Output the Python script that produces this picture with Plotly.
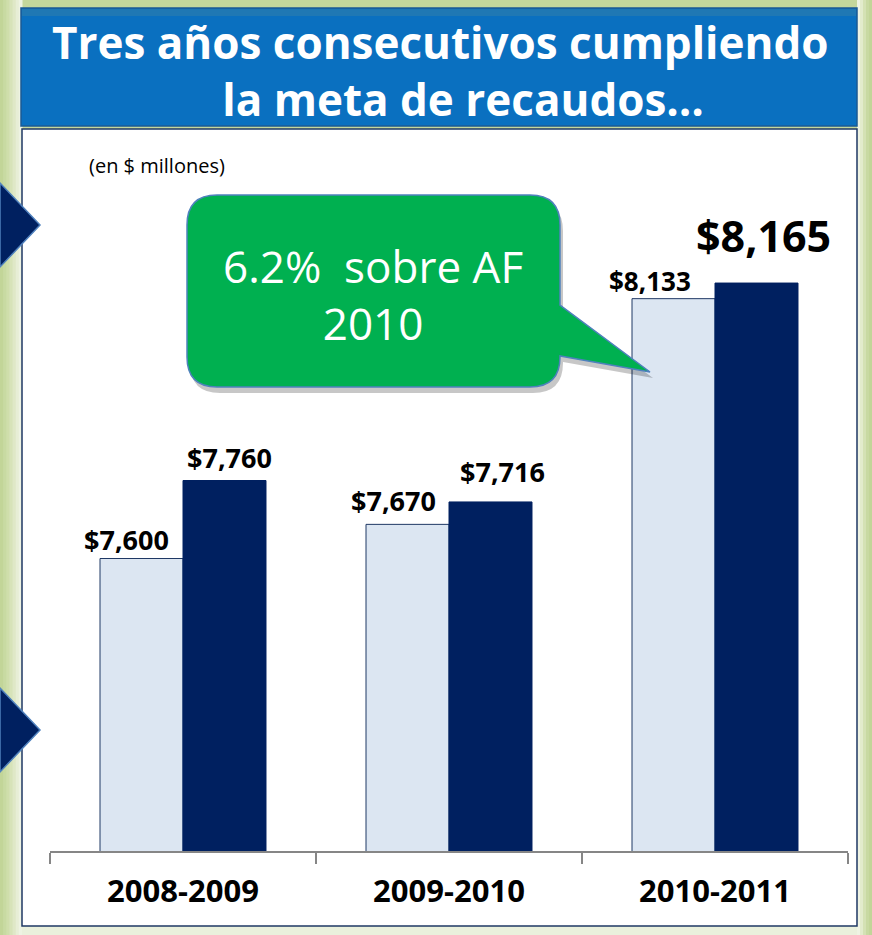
import plotly.graph_objects as go

# ---------------- data ----------------
categories = ["2008-2009", "2009-2010", "2010-2011"]
meta = [7600, 7670, 8133]        # light bars
recaudo = [7760, 7716, 8165]     # dark bars
title_line1 = "Tres años consecutivos cumpliendo"
title_line2 = "la meta de recaudos…"
units_text = "(en $ millones)"
callout_text = "6.2%  sobre AF<br>2010"

# ---------------- styles / geometry ----------------
W, H = 872, 935
L, R, T, B = 50, 24, 0, 84
PW = W - L - R
PH = H - T - B
FONT = "Open Sans"
LIGHT = "#dce6f2"
DARK = "#002060"

light_dx = [-57, -56, -65]
dark_dx = [46, 53, 48]
light_dy = [19, 24, 18]
dark_dy = [23, 30, 48]
light_fs = [27, 27, 26]
dark_fs = [27, 27, 43]


def X(px):
    return (px - L) / PW


def Y(py):
    return (H - B - py) / PH


def rect(x0, y0, x1, y1, fill, line=None, lw=0, layer="below"):
    return dict(type="rect", xref="paper", yref="paper",
                x0=X(x0), x1=X(x1), y0=Y(y1), y1=Y(y0),
                fillcolor=fill, layer=layer, line=dict(width=lw, color=line or fill))


def path_shape(pts_cmds, fill, line, lw, layer="above"):
    s = ""
    for cmd, pts in pts_cmds:
        s += cmd + " " + " ".join(f"{X(px):.5f},{Y(py):.5f}" for px, py in pts) + " "
    s += "Z"
    return dict(type="path", xref="paper", yref="paper", path=s,
                fillcolor=fill, line=dict(color=line, width=lw), layer=layer)


shapes = []
# left gradient strip
left_cols = ["#c2d598", "#c8daa2", "#cfdeab", "#d7e3b9", "#dfe8c7", "#e7eed6", "#eef3e3"]
step = 22 / len(left_cols)
for i, c in enumerate(left_cols):
    shapes.append(rect(i * step, 0, (i + 1) * step + 0.5, H, c))
# right strip
right_cols = ["#eef3e3", "#e2ebcc", "#d4e1b4", "#c8d9a2", "#c2d598"]
step = 15 / len(right_cols)
for i, c in enumerate(right_cols):
    shapes.append(rect(857 + i * step, 0, 857 + (i + 1) * step + 0.5, H, c))
# bottom strip
shapes.append(rect(22, 926, 857, H, "#eaf0dc"))

# title box
shapes.append(rect(21, 8, 857, 126, "#0a70c0", "#1b5a94", 1.5))
shapes.append(rect(22, 9, 856, 16, "#1f78b4", None, 0))
# white panel
shapes.append(rect(22, 129, 857, 926, "#ffffff", "#1f3864", 1.5))

# left arrows
for tip_y in (225, 730):
    shapes.append(path_shape([("M", [(0, tip_y - 42)]), ("L", [(40, tip_y)]), ("L", [(0, tip_y + 42)])],
                             DARK, "#4f81bd", 1.5))


# callout (rounded rectangle with tail)
def callout_path(dx=0, dy=0):
    x0, y0, x1, y1, r = 187 + dx, 195 + dy, 560 + dx, 387 + dy, 30
    return [
        ("M", [(x0 + r, y0)]),
        ("L", [(x1 - r, y0)]),
        ("Q", [(x1, y0), (x1, y0 + r)]),
        ("L", [(x1, 305 + dy)]),
        ("L", [(650 + dx, 372 + dy)]),
        ("L", [(x1, 356 + dy)]),
        ("L", [(x1, y1 - r)]),
        ("Q", [(x1, y1), (x1 - r, y1)]),
        ("L", [(x0 + r, y1)]),
        ("Q", [(x0, y1), (x0, y1 - r)]),
        ("L", [(x0, y0 + r)]),
        ("Q", [(x0, y0), (x0 + r, y0)]),
    ]


shapes.append(path_shape(callout_path(3, 6), "rgba(0,0,0,0.22)", "rgba(0,0,0,0)", 0))
shapes.append(path_shape(callout_path(), "#00b050", "#4f81bd", 1.5))

# ---------------- figure ----------------
fig = go.Figure()
fig.add_trace(go.Bar(x=categories, y=meta, marker=dict(color=LIGHT, line=dict(color="#1f3864", width=1)),
                     hoverinfo="skip"))
fig.add_trace(go.Bar(x=categories, y=recaudo, marker=dict(color=DARK, line=dict(color=DARK, width=1)),
                     hoverinfo="skip"))

annotations = []
for i, c in enumerate(categories):
    annotations.append(dict(x=c, y=meta[i], xref="x", yref="y", text=f"<b>${meta[i]:,}</b>",
                            showarrow=False, xshift=light_dx[i], yshift=light_dy[i], yanchor="middle",
                            font=dict(family=FONT, size=light_fs[i], color="#000000")))
    annotations.append(dict(x=c, y=recaudo[i], xref="x", yref="y", text=f"<b>${recaudo[i]:,}</b>",
                            showarrow=False, xshift=dark_dx[i], yshift=dark_dy[i], yanchor="middle",
                            font=dict(family=FONT, size=dark_fs[i], color="#000000")))

annotations += [
    dict(x=X(440), y=Y(70), xref="paper", yref="paper",
         text=f"<b>{title_line1}</b><br><b>&nbsp;&nbsp;&nbsp;&nbsp;{title_line2}</b>", showarrow=False,
         xanchor="center", yanchor="middle", align="center",
         font=dict(family=FONT, size=44, color="#ffffff")),
    dict(x=X(157), y=Y(166), xref="paper", yref="paper", text=units_text, showarrow=False,
         xanchor="center", yanchor="middle", font=dict(family=FONT, size=20, color="#000000")),
    dict(x=X(373), y=Y(294), xref="paper", yref="paper", text=callout_text, showarrow=False,
         xanchor="center", yanchor="middle", font=dict(family=FONT, size=44, color="#ffffff")),
]

fig.update_layout(
    width=W, height=H,
    margin=dict(l=L, r=R, t=T, b=B, pad=0),
    paper_bgcolor="#c4d79c",
    plot_bgcolor="rgba(0,0,0,0)",
    barmode="group", bargap=0.376, bargroupgap=0,
    showlegend=False,
    shapes=shapes,
    annotations=annotations,
    xaxis=dict(type="category", showline=True, linecolor="#868686", linewidth=1.5,
               ticks="outside", tickson="boundaries", ticklen=11, tickcolor="#868686", tickwidth=1.5,
               tickfont=dict(family=FONT, size=31, color="#000000"), showgrid=False,
               ticklabelstandoff=12, fixedrange=True,
               tickvals=categories, ticktext=[f"<b>{c}</b>" for c in categories]),
    yaxis=dict(visible=False, range=[7000, 7000 + PH / 0.4875], showgrid=False, fixedrange=True),
)

fig.write_html("out.html", config={"displayModeBar": False},
               post_script="document.body.style.margin='0';document.body.style.padding='0';")
